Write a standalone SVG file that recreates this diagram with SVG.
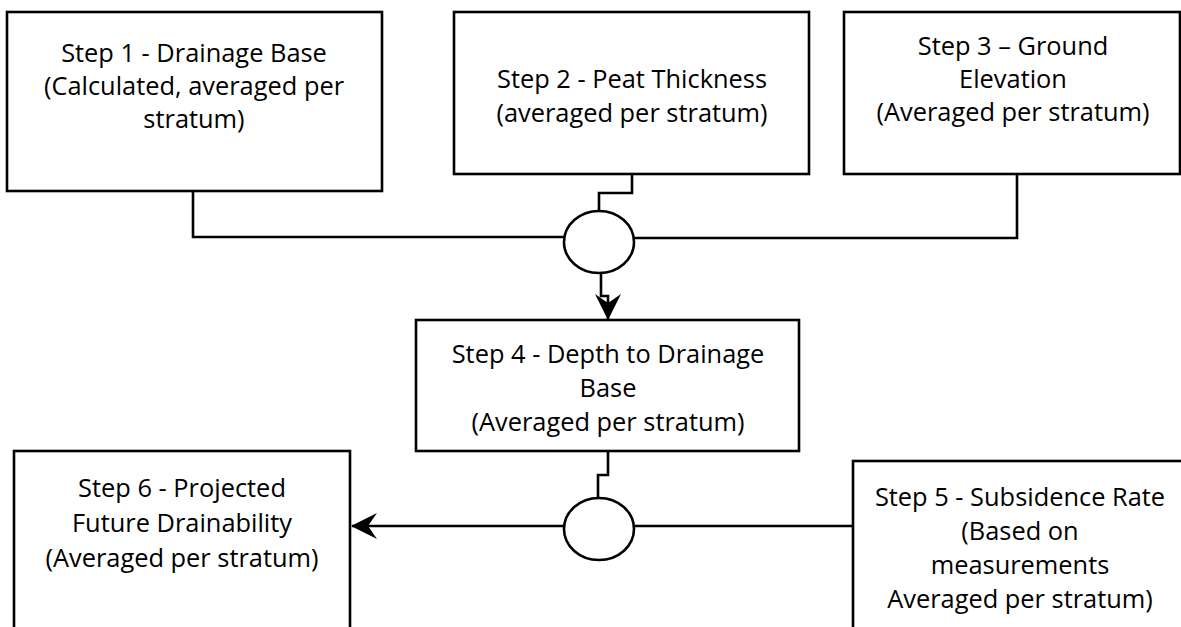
<svg xmlns="http://www.w3.org/2000/svg" width="1181" height="627" viewBox="0 0 1181 627">
<style>
.box{fill:#fff;stroke:#000;stroke-width:2.6}
.lbl{font-family:"Open Sans","Liberation Sans",sans-serif;font-size:25.4px;fill:#000;text-anchor:middle}
.conn{fill:none;stroke:#000;stroke-width:2.6}
.jn{fill:#fff;stroke:#000;stroke-width:2.6}
</style>
<defs>
<marker id="stealth" markerUnits="userSpaceOnUse" viewBox="0 0 26 26" refX="25" refY="13" markerWidth="26" markerHeight="26" orient="auto">
<path d="M0,0 L26,13 L0,26 L9,13 Z" fill="#000"/>
</marker>
</defs>
<rect width="1181" height="627" fill="#fff"/>
<g id="connectors">
<polyline class="conn" points="193,191 193,237 564,237"/>
<polyline class="conn" points="632,174 632,193 599,193 599,211"/>
<polyline class="conn" points="1017,174 1017,238 634,238"/>
<polyline class="conn" points="601,273 601,296 608,296 608,319" marker-end="url(#stealth)"/>
<polyline class="conn" points="608,451 608,475 598,475 598,498"/>
<line class="conn" x1="853" y1="526" x2="634" y2="526"/>
<line class="conn" x1="564" y1="526" x2="352" y2="526" marker-end="url(#stealth)"/>
</g>
<g id="junction1"><ellipse class="jn" cx="599" cy="242" rx="35" ry="31"/></g>
<g id="junction2"><ellipse class="jn" cx="599" cy="529" rx="35" ry="31"/></g>
<g id="step1">
<rect class="box" x="7" y="12" width="375" height="179"/>
<text class="lbl" x="194" y="62">Step 1 - Drainage Base</text>
<text class="lbl" x="194" y="95">(Calculated, averaged per</text>
<text class="lbl" x="194" y="128">stratum)</text>
</g>
<g id="step2">
<rect class="box" x="454" y="12" width="355" height="162"/>
<text class="lbl" x="632" y="88">Step 2 - Peat Thickness</text>
<text class="lbl" x="632" y="122">(averaged per stratum)</text>
</g>
<g id="step3">
<rect class="box" x="844" y="12" width="336" height="162"/>
<text class="lbl" x="1013" y="55">Step 3 – Ground</text>
<text class="lbl" x="1013" y="88">Elevation</text>
<text class="lbl" x="1013" y="121">(Averaged per stratum)</text>
</g>
<g id="step4">
<rect class="box" x="416" y="320" width="383" height="131"/>
<text class="lbl" x="608" y="363">Step 4 - Depth to Drainage</text>
<text class="lbl" x="608" y="397">Base</text>
<text class="lbl" x="608" y="431">(Averaged per stratum)</text>
</g>
<g id="step5">
<rect class="box" x="853" y="461" width="335" height="180"/>
<text class="lbl" x="1020" y="506">Step 5 - Subsidence Rate</text>
<text class="lbl" x="1020" y="540">(Based on</text>
<text class="lbl" x="1020" y="574">measurements</text>
<text class="lbl" x="1020" y="608">Averaged per stratum)</text>
</g>
<g id="step6">
<rect class="box" x="14" y="451" width="336" height="190"/>
<text class="lbl" x="182" y="497">Step 6 - Projected</text>
<text class="lbl" x="182" y="532">Future Drainability</text>
<text class="lbl" x="182" y="567">(Averaged per stratum)</text>
</g>
</svg>
